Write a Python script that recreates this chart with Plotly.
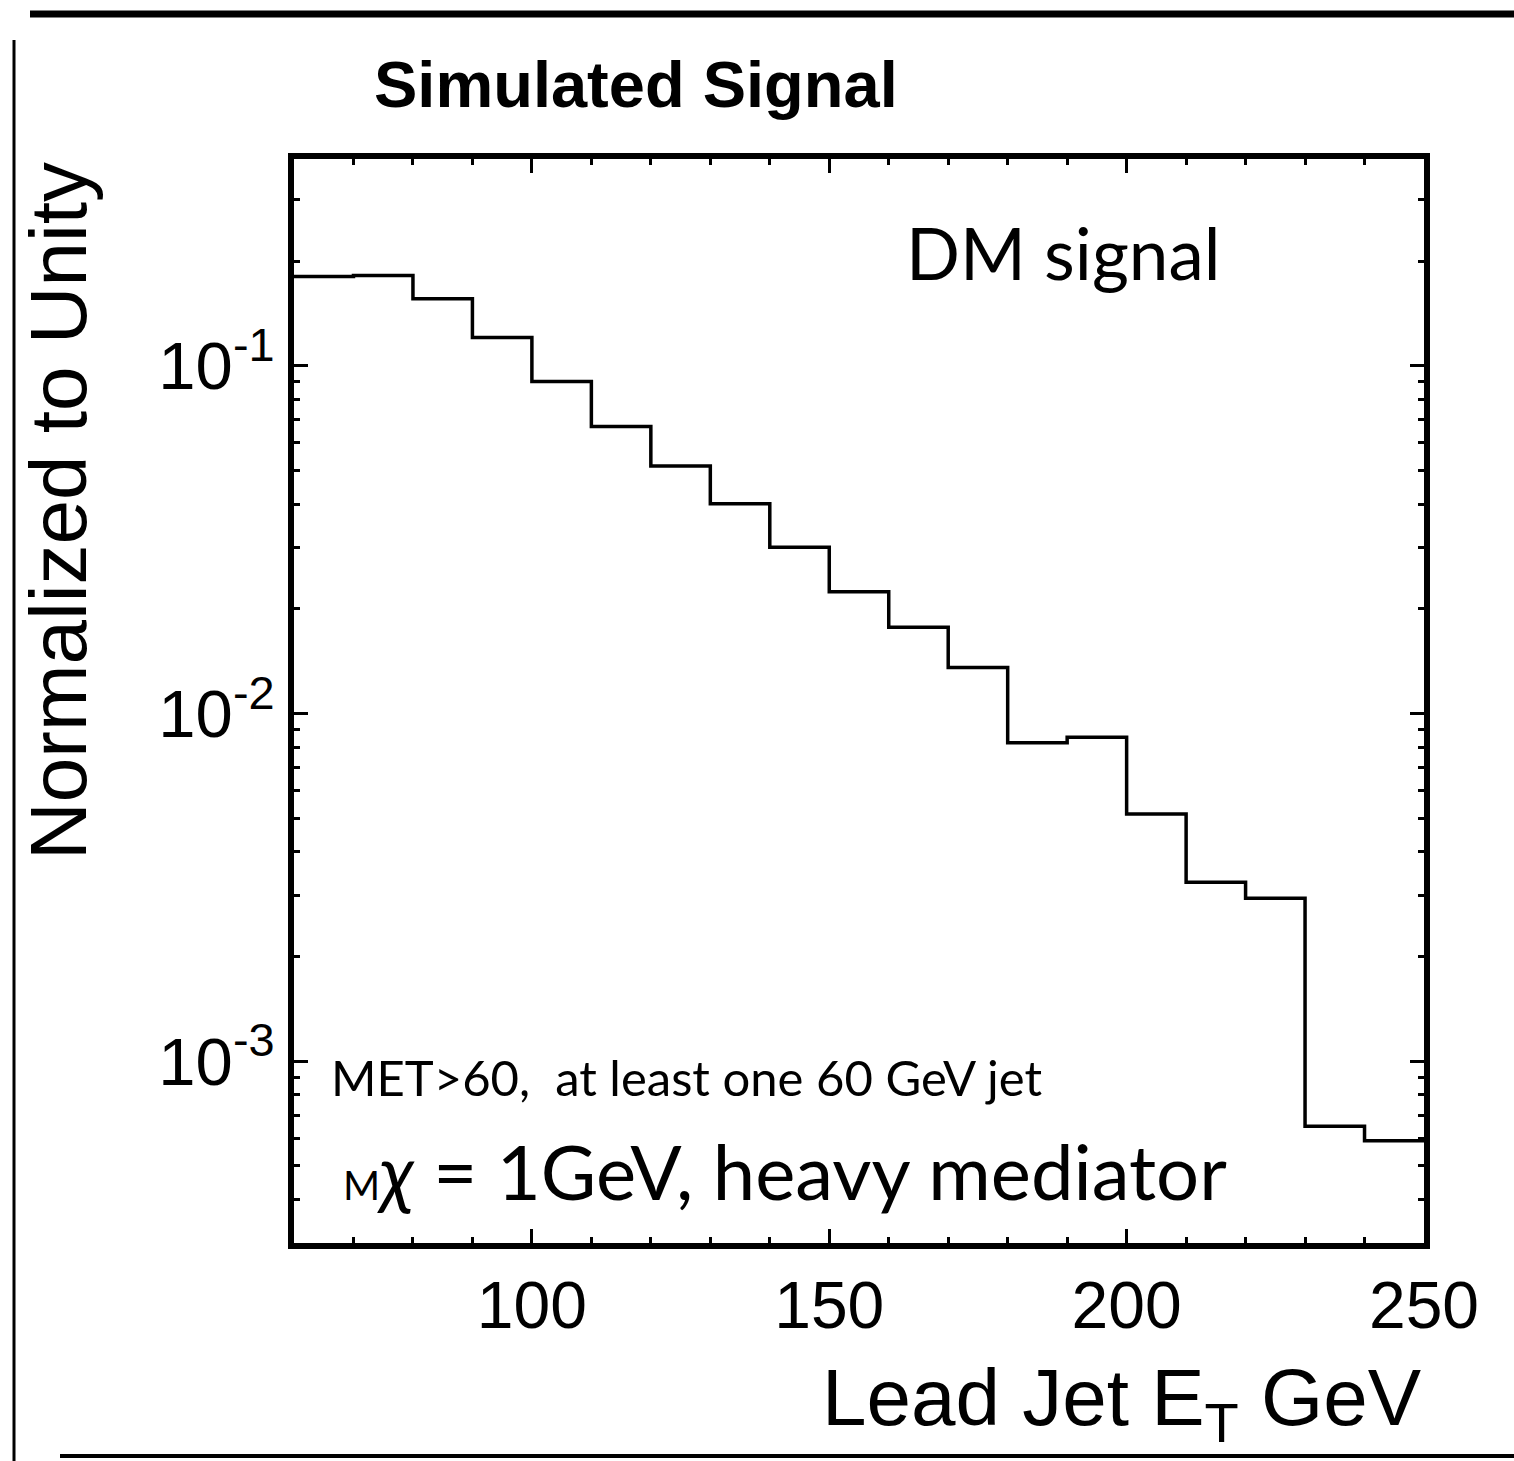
import plotly.graph_objects as go

# Bin edges (GeV) and normalized contents
bin_edges = [60, 70, 80, 90, 100, 110, 120, 130, 140, 150, 160, 170, 180,
             190, 200, 210, 220, 230, 240, 250]
bin_values = [0.1807, 0.182, 0.156, 0.1206, 0.0901, 0.0669, 0.0515, 0.0401,
              0.03007, 0.02241, 0.0177, 0.01356, 0.00824, 0.00854, 0.00514,
              0.00327, 0.00294, 0.000650, 0.000590]

y_tickvals = [1e-3, 1e-2, 1e-1]
y_ticktext = ["10<sup>-3</sup>", "10<sup>-2</sup>", "10<sup>-1</sup>"]
x_tickvals = [100, 150, 200, 250]
x_ticktext = ["100", "150", "200", "250"]

W, H = 1514, 1461
# inner plot-area edges (axis lines of width 6 are drawn just outside)
L, R, T, B = 294, 1424, 159, 1243


def px(xp):
    return (xp - L) / (R - L)


def py(yp):
    return (B - yp) / (B - T)


HELV = "Liberation Sans, Arial, Helvetica, sans-serif"
GILL = "Lato, Open Sans, sans-serif"

fig = go.Figure()
fig.add_trace(go.Scatter(
    x=bin_edges,
    y=bin_values + [bin_values[-1]],
    mode="lines",
    line=dict(shape="hv", color="black", width=3.5),
    showlegend=False,
    hoverinfo="skip",
))

fig.update_layout(
    width=W, height=H,
    margin=dict(l=L, r=W - R, t=T, b=H - B, pad=0),
    paper_bgcolor="white",
    plot_bgcolor="white",
    showlegend=False,
)

fig.update_xaxes(
    range=[60, 250],
    showgrid=False, zeroline=False,
    showline=True, linecolor="black", linewidth=6, mirror="allticks",
    ticks="inside", ticklen=14, tickwidth=3, tickcolor="black",
    tickvals=x_tickvals, ticktext=x_ticktext,
    tickfont=dict(family=HELV, size=66, color="black"),
    minor=dict(ticks="inside", ticklen=6, tickwidth=3, tickcolor="black",
               dtick=10, tick0=60, showgrid=False),
)
fig.update_yaxes(
    type="log",
    range=[-3.523, -0.405],
    showgrid=False, zeroline=False,
    showline=True, linecolor="black", linewidth=6, mirror="allticks",
    ticks="inside", ticklen=14, tickwidth=3, tickcolor="black",
    tickvals=y_tickvals, ticktext=y_ticktext,
    tickfont=dict(family=HELV, size=67, color="black"),
    minor=dict(ticks="inside", ticklen=6, tickwidth=3, tickcolor="black",
               dtick="D1", showgrid=False),
)

annotations = [
    dict(text="<b>Simulated Signal</b>", x=px(372), y=py(84), xanchor="left",
         yanchor="middle", font=dict(family=HELV, size=65, color="black")),
    dict(text="Normalized to Unity", x=px(58), y=py(511), xanchor="center",
         yanchor="middle", textangle=-90,
         font=dict(family=HELV, size=80, color="black")),
    dict(text="Lead Jet E<sub>T</sub> GeV", x=px(1424), y=py(1403),
         xanchor="right", yanchor="middle",
         font=dict(family=HELV, size=80, color="black")),
    dict(text="DM signal", x=px(1222), y=py(252), xanchor="right",
         yanchor="middle", font=dict(family=GILL, size=71, color="black")),
    dict(text="MET>60,  at least one 60 GeV jet", x=px(329), y=py(1077),
         xanchor="left", yanchor="middle",
         font=dict(family=GILL, size=49, color="black")),
    dict(text="<span style='font-size:40px'>M</span><i>χ</i> = 1GeV, heavy mediator",
         x=px(341), y=py(1170), xanchor="left", yanchor="middle",
         font=dict(family=GILL, size=76, color="black")),
]
for a in annotations:
    a.update(xref="paper", yref="paper", showarrow=False)
fig.update_layout(annotations=annotations)

# rough frame around the picture
shapes = [
    dict(type="line", x0=px(30), x1=px(1514), y0=py(14), y1=py(14),
         line=dict(color="black", width=7)),
    dict(type="line", x0=px(14), x1=px(14), y0=py(40), y1=py(1461),
         line=dict(color="black", width=3)),
    dict(type="line", x0=px(60), x1=px(1514), y0=py(1456), y1=py(1456),
         line=dict(color="black", width=4)),
]
for s in shapes:
    s.update(xref="paper", yref="paper", layer="above")
fig.update_layout(shapes=shapes)

fig.write_html("out.html")
